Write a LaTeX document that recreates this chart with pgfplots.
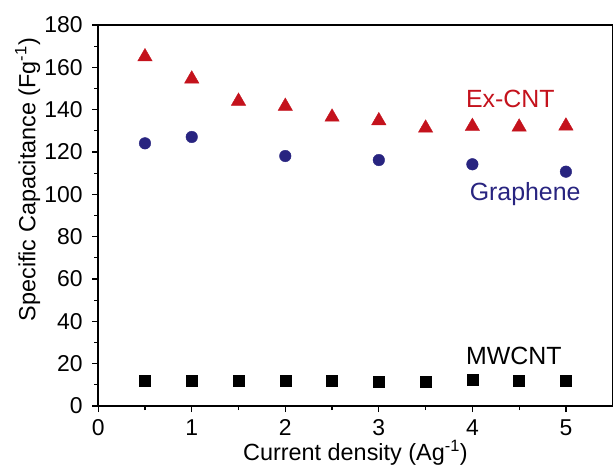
\documentclass[border=0pt]{standalone}
\usepackage{pgfplots}
\pgfplotsset{compat=1.18}
\usepackage{fontspec}
\setmainfont{Liberation Sans}
\definecolor{exred}{RGB}{196,18,28}
\definecolor{gblue}{RGB}{40,36,128}
\begin{document}
\begin{tikzpicture}
\useasboundingbox (-98.2bp,-60bp) rectangle (515.8bp,406bp);
\begin{axis}[
  at={(0,0)}, anchor=south west,
  scale only axis, width=514.5bp, height=381bp,
  xmin=0, xmax=5.5, ymin=0, ymax=180,
  xtick={0,1,2,3,4,5}, minor x tick num=1,
  ytick={0,20,...,180}, minor y tick num=1,
  xtick pos=left, ytick pos=left,
  tick align=outside,
  major tick length=6bp, minor tick length=4bp,
  axis line style={line width=1.6bp},
  every tick/.style={line width=1.3bp, black},
  tick label style={font=\fontsize{23}{27}\selectfont},
  /pgf/number format/assume math mode=true,
  xticklabel style={yshift=-4bp},
  yticklabel style={xshift=-6bp},
  label style={font=\fontsize{23.5}{27}\selectfont},
  xlabel={Current density (Ag\textsuperscript{-1})},
  xlabel style={at={(axis description cs:0.5,-0.1435)}, anchor=base, inner sep=0pt},
  ylabel={Specific Capacitance (Fg\textsuperscript{-1})},
  ylabel style={at={(axis description cs:-0.137,0.966)}, anchor=east, inner sep=0pt},
  clip=false,
]
\addplot[only marks, mark=triangle*, mark size=8.3bp, color=exred] coordinates {
(0.5,165.0) (1,154.5) (1.5,144.0) (2,141.6) (2.5,136.5) (3,134.8) (3.5,131.3) (4,132.1) (4.5,131.8) (5,132.3)
};
\addplot[only marks, mark=*, mark size=5.8bp, color=gblue] coordinates {
(0.5,124.1) (1,127.1) (2,118.1) (3,116.2) (4,114.2) (5,110.7)
};
\addplot[only marks, mark=square*, mark size=5.5bp, color=black] coordinates {
(0.5,12.0) (1,12.1) (1.5,11.8) (2,12.0) (2.5,12.0) (3,11.5) (3.5,11.5) (4,12.3) (4.5,11.8) (5,11.9)
};
\node[anchor=base west, inner sep=0pt, text=exred, font=\fontsize{25}{29}\selectfont] at (axis cs:3.93,141.2) {Ex-CNT};
\node[anchor=base west, inner sep=0pt, text=gblue, font=\fontsize{25}{29}\selectfont] at (axis cs:3.97,97.3) {Graphene};
\node[anchor=base west, inner sep=0pt, text=black, font=\fontsize{25}{29}\selectfont] at (axis cs:3.93,19.4) {MWCNT};
\end{axis}
\end{tikzpicture}
\end{document}
